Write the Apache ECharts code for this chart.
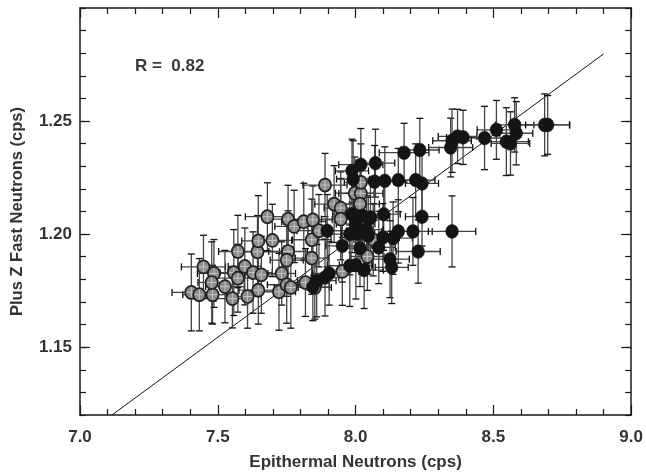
<!DOCTYPE html>
<html>
<head>
<meta charset="utf-8">
<script src="https://cdn.jsdelivr.net/npm/echarts@6/dist/echarts.min.js"></script>
<style>
html,body{margin:0;padding:0;background:#fff;}
#chart{width:646px;height:476px;}
</style>
</head>
<body>
<div id="chart"></div>
<script>
// ---- Data ----
var grayX = [7.404,7.433,7.481,7.448,7.486,7.478,7.526,7.553,7.558,7.573,7.573,7.598,7.608,7.628,7.644,7.647,7.647,7.658,7.680,7.698,7.722,7.732,7.755,7.750,7.755,7.750,7.765,7.777,7.812,7.818,7.841,7.841,7.845,7.852,7.867,7.889,7.922,7.946,7.946,7.952,7.997,8.019,8.019,8.016,8.043,8.064];
var grayY = [1.1742,1.1732,1.1732,1.1855,1.1826,1.1786,1.1768,1.1715,1.1830,1.1805,1.1923,1.1857,1.1724,1.1830,1.1922,1.1970,1.1752,1.1820,1.2077,1.1972,1.1745,1.1826,1.1923,1.1885,1.2066,1.1776,1.1764,1.2034,1.2055,1.1786,1.1975,1.1894,1.2063,1.1764,1.2015,1.2217,1.2133,1.2115,1.2066,1.1835,1.2181,1.2180,1.2229,1.2133,1.1901,1.1975];
var grayXErr = [0.07,0.06,0.05,0.08,0.06,0.05,0.07,0.06,0.05,0.08,0.07,0.06,0.05,0.07,0.08,0.06,0.07,0.06,0.08,0.07,0.06,0.05,0.07,0.06,0.08,0.07,0.06,0.07,0.08,0.06,0.07,0.06,0.07,0.06,0.08,0.08,0.07,0.06,0.07,0.06,0.07,0.08,0.06,0.07,0.06,0.07];
var grayYErr = [0.017,0.016,0.013,0.014,0.015,0.018,0.016,0.013,0.019,0.015,0.016,0.017,0.014,0.018,0.016,0.020,0.015,0.017,0.015,0.016,0.017,0.014,0.018,0.016,0.015,0.017,0.018,0.016,0.017,0.015,0.018,0.016,0.015,0.014,0.016,0.014,0.017,0.016,0.018,0.015,0.016,0.014,0.017,0.016,0.015,0.016];

var blackX = [7.845,7.859,7.889,7.904,7.897,7.979,8.001,8.031,7.987,8.019,8.072,7.991,8.069,8.106,8.155,8.218,8.241,8.176,8.233,8.102,8.241,7.987,8.025,8.054,7.979,8.009,8.046,8.099,8.136,8.155,8.208,8.350,8.016,8.084,8.227,8.125,8.131,8.345,8.370,8.390,8.468,8.511,8.577,8.583,8.547,8.562,8.686,8.697,8.350,7.952,8.000,8.040];
var blackY = [1.1767,1.1794,1.1808,1.1826,1.2015,1.1860,1.1863,1.1841,1.2280,1.2307,1.2314,1.2243,1.2232,1.2236,1.2239,1.2239,1.2224,1.2360,1.2372,1.2088,1.2077,1.2088,1.2081,1.2074,1.2000,1.2003,1.1993,1.1985,1.1982,1.2012,1.2012,1.2012,1.1938,1.1941,1.1923,1.1889,1.1853,1.2383,1.2432,1.2428,1.2425,1.2461,1.2483,1.2446,1.2409,1.2401,1.2483,1.2483,1.2413,1.1948,1.2045,1.2020];
var blackXErr = [0.06,0.07,0.05,0.06,0.07,0.08,0.06,0.07,0.06,0.08,0.07,0.06,0.07,0.06,0.08,0.07,0.06,0.09,0.07,0.06,0.06,0.07,0.06,0.07,0.08,0.06,0.07,0.06,0.07,0.06,0.07,0.086,0.07,0.06,0.08,0.07,0.06,0.08,0.07,0.06,0.08,0.07,0.07,0.06,0.08,0.07,0.09,0.08,0.07,0.06,0.07,0.06];
var blackYErr = [0.015,0.016,0.017,0.014,0.016,0.018,0.015,0.017,0.014,0.016,0.015,0.017,0.016,0.015,0.014,0.016,0.015,0.013,0.014,0.016,0.013,0.017,0.015,0.016,0.018,0.016,0.017,0.015,0.016,0.014,0.015,0.0157,0.017,0.016,0.014,0.017,0.016,0.013,0.012,0.012,0.014,0.013,0.012,0.014,0.015,0.014,0.0137,0.013,0.014,0.016,0.017,0.015];

var fitX = [7.116, 8.900];
var fitY = [1.120, 1.2797];

var xTicks = [7.0, 7.5, 8.0, 8.5, 9.0];
var yTicks = [1.15, 1.20, 1.25];
var annotation = 'R =  0.82';

// ---- Build option ----
function pack(xs, ys, xe, ye) {
  return xs.map(function (x, i) { return [x, ys[i], xe[i], ye[i]]; });
}
var grayData = pack(grayX, grayY, grayXErr, grayYErr);
var blackData = pack(blackX, blackY, blackXErr, blackYErr);
var fitData = fitX.map(function (x, i) { return [x, fitY[i]]; });

var FONT = '"Liberation Sans", Arial, Helvetica, sans-serif';
var TXT = '#333';
var AX = '#1a1a1a';

function errRender(params, api) {
  var x = api.value(0), y = api.value(1), xe = api.value(2), ye = api.value(3);
  var l = api.coord([x - xe, y]), r = api.coord([x + xe, y]);
  var t = api.coord([x, y + ye]), b = api.coord([x, y - ye]);
  var c = 3.5;
  var st = { stroke: '#444', lineWidth: 1.3 };
  var cs = { stroke: '#111', lineWidth: 1.3 };
  return {
    type: 'group',
    children: [
      { type: 'line', shape: { x1: l[0], y1: l[1], x2: r[0], y2: r[1] }, style: st },
      { type: 'line', shape: { x1: t[0], y1: t[1], x2: b[0], y2: b[1] }, style: st },
      { type: 'line', shape: { x1: l[0], y1: l[1] - c, x2: l[0], y2: l[1] + c }, style: cs },
      { type: 'line', shape: { x1: r[0], y1: r[1] - c, x2: r[0], y2: r[1] + c }, style: cs },
      { type: 'line', shape: { x1: t[0] - c, y1: t[1], x2: t[0] + c, y2: t[1] }, style: cs },
      { type: 'line', shape: { x1: b[0] - c, y1: b[1], x2: b[0] + c, y2: b[1] }, style: cs }
    ]
  };
}

function grayRender(params, api) {
  var p = api.coord([api.value(0), api.value(1)]);
  var rx = 6.1, ry = 6.5;
  return {
    type: 'group',
    children: [
      { type: 'ellipse', shape: { cx: p[0], cy: p[1], rx: rx, ry: ry }, style: { fill: '#8c8c8c', stroke: '#222', lineWidth: 1.7 } },
      { type: 'line', shape: { x1: p[0] - rx + 1.5, y1: p[1], x2: p[0] + rx - 1.5, y2: p[1] }, style: { stroke: '#c4c4c4', lineWidth: 1 } },
      { type: 'line', shape: { x1: p[0], y1: p[1] - ry + 1.5, x2: p[0], y2: p[1] + ry - 1.5 }, style: { stroke: '#c4c4c4', lineWidth: 1 } }
    ]
  };
}

function blackRender(params, api) {
  var p = api.coord([api.value(0), api.value(1)]);
  return { type: 'ellipse', shape: { cx: p[0], cy: p[1], rx: 6.3, ry: 6.8 }, style: { fill: '#141414', stroke: '#141414', lineWidth: 0.5 } };
}

var labelStyle = { color: TXT, fontFamily: FONT, fontWeight: 'bold', fontSize: 17 };

var option = {
  animation: false,
  backgroundColor: '#fff',
  grid: { left: 80, right: 14, top: 8, bottom: 61 },
  graphic: [{
    type: 'text', left: 135, top: 58,
    style: { text: annotation, fill: '#3a3a3a', font: 'bold 17px ' + FONT }
  }],
  xAxis: [{
    type: 'value', position: 'bottom', min: 7, max: 9, interval: 0.5,
    axisLine: { show: true, onZero: false, lineStyle: { color: AX, width: 1.5 } },
    axisTick: { show: true, inside: true, length: 10, lineStyle: { color: AX, width: 1.2 } },
    minorTick: { show: true, splitNumber: 5, length: 6, lineStyle: { color: AX, width: 1.2 } },
    splitLine: { show: false },
    axisLabel: Object.assign({ margin: 14, showMinLabel: true, showMaxLabel: true,
      formatter: function (v) { return xTicks.indexOf(+v.toFixed(1)) >= 0 ? v.toFixed(1) : ''; } }, labelStyle),
    name: 'Epithermal Neutrons (cps)', nameLocation: 'middle', nameGap: 39,
    nameTextStyle: { color: TXT, fontFamily: FONT, fontWeight: 'bold', fontSize: 17 }
  }, {
    type: 'value', position: 'top', min: 7, max: 9, interval: 0.5,
    axisLine: { show: true, onZero: false, lineStyle: { color: AX, width: 1.5 } },
    axisTick: { show: true, inside: true, length: 10, lineStyle: { color: AX, width: 1.2 } },
    minorTick: { show: true, splitNumber: 5, length: 6, lineStyle: { color: AX, width: 1.2 } },
    splitLine: { show: false }, axisLabel: { show: false }
  }],
  yAxis: [{
    type: 'value', position: 'left', min: 1.12, max: 1.30,
    axisLine: { show: true, onZero: false, lineStyle: { color: AX, width: 1.5 } },
    axisTick: { show: true, inside: true, length: 10, customValues: yTicks, lineStyle: { color: AX, width: 1.2 } },
    splitLine: { show: false },
    axisLabel: Object.assign({ margin: 8, customValues: yTicks,
      formatter: function (v) { return v.toFixed(2); } }, labelStyle),
    name: 'Plus Z Fast Neutrons (cps)', nameLocation: 'middle', nameGap: 54,
    nameTextStyle: { color: TXT, fontFamily: FONT, fontWeight: 'bold', fontSize: 16.5 }
  }, {
    type: 'value', position: 'left', min: 1.12, max: 1.30, interval: 0.01,
    axisLine: { show: false },
    axisTick: { show: true, inside: true, length: 6, lineStyle: { color: AX, width: 1.2 } },
    splitLine: { show: false }, axisLabel: { show: false }
  }, {
    type: 'value', position: 'right', min: 1.12, max: 1.30,
    axisLine: { show: true, onZero: false, lineStyle: { color: AX, width: 1.5 } },
    axisTick: { show: true, inside: true, length: 10, customValues: yTicks, lineStyle: { color: AX, width: 1.2 } },
    splitLine: { show: false }, axisLabel: { show: false }
  }, {
    type: 'value', position: 'right', min: 1.12, max: 1.30, interval: 0.01,
    axisLine: { show: false },
    axisTick: { show: true, inside: true, length: 6, lineStyle: { color: AX, width: 1.2 } },
    splitLine: { show: false }, axisLabel: { show: false }
  }],
  series: [{
    type: 'line', data: fitData, showSymbol: false, symbol: 'none',
    lineStyle: { color: '#111', width: 1 }, z: 1, silent: true
  }, {
    type: 'custom', renderItem: errRender, data: grayData, z: 2, silent: true,
    encode: { x: 0, y: 1 }
  }, {
    type: 'custom', renderItem: errRender, data: blackData, z: 2, silent: true,
    encode: { x: 0, y: 1 }
  }, {
    type: 'custom', renderItem: grayRender, data: grayData, z: 3, silent: true,
    encode: { x: 0, y: 1 }
  }, {
    type: 'custom', renderItem: blackRender, data: blackData, z: 4, silent: true,
    encode: { x: 0, y: 1 }
  }]
};

var chart = echarts.init(document.getElementById('chart'), null, { renderer: 'canvas' });
chart.setOption(option);
</script>
</body>
</html>
